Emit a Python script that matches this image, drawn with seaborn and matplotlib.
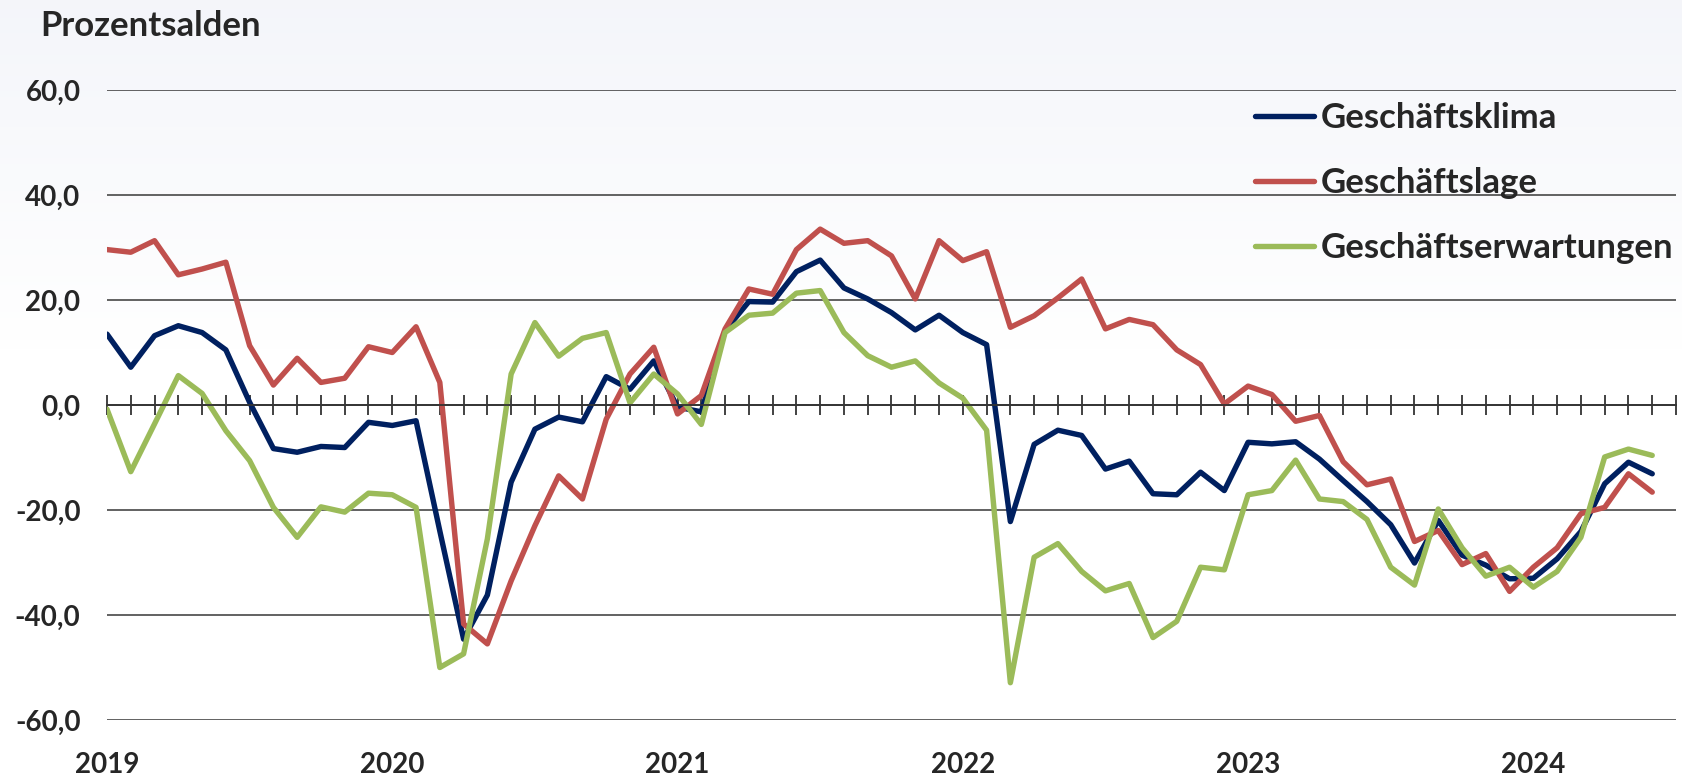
import numpy as np
import pandas as pd
import matplotlib
matplotlib.use("Agg")
import matplotlib.pyplot as plt
from matplotlib.ticker import FixedLocator, FuncFormatter
from matplotlib.font_manager import FontProperties
import seaborn as sns

# ---------------- data (monthly, Jan 2019 - Jun 2024) ----------------
series_names = ["Geschäftsklima", "Geschäftslage", "Geschäftserwartungen"]
year_labels = ["2019", "2020", "2021", "2022", "2023", "2024"]

geschaeftsklima = [
    13.5, 7.2, 13.2, 15.1, 13.8, 10.5, 0.5, -8.3, -9.0, -7.9, -8.1, -3.3,
    -3.9, -3.0, -24.0, -44.6, -36.2, -14.7, -4.6, -2.3, -3.2, 5.4, 3.0, 8.4,
    -0.4, -1.3, 14.2, 19.7, 19.6, 25.4, 27.6, 22.3, 20.2, 17.6, 14.3, 17.1,
    13.8, 11.5, -22.2, -7.5, -4.8, -5.8, -12.2, -10.7, -16.9, -17.1, -12.8, -16.3,
    -7.1, -7.4, -7.0, -10.3, -14.4, -18.4, -22.8, -30.1, -22.0, -28.6, -30.5, -33.1,
    -33.0, -29.3, -24.1, -15.0, -10.9, -13.1,
]
geschaeftslage = [
    29.6, 29.1, 31.3, 24.8, 25.9, 27.2, 11.3, 3.8, 8.9, 4.3, 5.1, 11.1,
    10.0, 14.9, 4.3, -41.7, -45.5, -33.5, -23.0, -13.5, -17.9, -2.7, 5.9, 11.0,
    -1.7, 1.8, 14.5, 22.1, 21.1, 29.6, 33.5, 30.8, 31.3, 28.4, 20.2, 31.3,
    27.5, 29.2, 14.8, 17.0, 20.4, 24.0, 14.5, 16.3, 15.3, 10.5, 7.7, 0.2,
    3.6, 2.0, -3.1, -2.0, -10.8, -15.2, -14.1, -26.0, -23.9, -30.4, -28.3, -35.5,
    -30.9, -27.2, -20.7, -19.5, -13.1, -16.6,
]
geschaeftserwartungen = [
    -0.8, -12.7, -3.6, 5.6, 2.2, -4.9, -10.6, -19.5, -25.2, -19.4, -20.4, -16.8,
    -17.1, -19.5, -50.0, -47.4, -25.5, 5.9, 15.7, 9.3, 12.7, 13.8, 0.4, 5.9,
    2.1, -3.7, 13.8, 17.1, 17.5, 21.3, 21.8, 13.8, 9.4, 7.2, 8.4, 4.2,
    1.3, -4.8, -52.9, -29.0, -26.4, -31.7, -35.4, -34.0, -44.3, -41.2, -30.9, -31.4,
    -17.1, -16.3, -10.5, -17.9, -18.4, -21.8, -30.9, -34.3, -19.8, -27.2, -32.6, -30.9,
    -34.7, -31.7, -25.2, -9.9, -8.4, -9.6,
]

colors = ["#002060", "#c0504d", "#9bbb59"]

month_index = np.arange(len(geschaeftsklima))
df = pd.DataFrame({
    "Monat": month_index,
    series_names[0]: geschaeftsklima,
    series_names[1]: geschaeftslage,
    series_names[2]: geschaeftserwartungen,
}).melt(id_vars="Monat", var_name="Reihe", value_name="Wert")

# ---------------- style ----------------
sns.set_theme(style="white")
plt.rcParams["font.family"] = ["Lato", "DejaVu Sans"]
plt.rcParams["font.weight"] = "bold"

fig = plt.figure(figsize=(16.83, 7.76), dpi=100)
fig.patch.set_facecolor("white")

# subtle background gradient
bg = fig.add_axes([0, 0, 1, 1], zorder=-10)
grad = np.linspace(0, 1, 256).reshape(-1, 1)
top_c = np.array([0.957, 0.963, 0.980])
bot_c = np.array([1.0, 1.0, 1.0])
t = np.clip(grad / 0.45, 0, 1)
img = top_c * (1 - t) + bot_c * t
bg.imshow(img.reshape(256, 1, 3), aspect="auto", extent=[0, 1, 0, 1], origin="upper")
bg.set_axis_off()

ax = fig.add_axes([107 / 1683, 1 - 720 / 776, (1676 - 107) / 1683, 630 / 776])
ax.patch.set_alpha(0)

sns.lineplot(data=df, x="Monat", y="Wert", hue="Reihe", hue_order=series_names,
             palette=colors, linewidth=3.9, ax=ax, legend=True)

ax.set_xlim(0, 66)
ax.set_ylim(-60, 60)
ax.set_xlabel("")
ax.set_ylabel("")

# y axis
ax.set_yticks(np.arange(-60, 61, 20))
ax.yaxis.set_major_formatter(FuncFormatter(lambda v, p: f"{v:.1f}".replace(".", ",")))
ax.tick_params(axis="y", length=0, pad=19, labelsize=20)
for lab in ax.get_yticklabels():
    lab.set_fontweight("bold")
ax.yaxis.grid(True, color="#555555", linewidth=1.3)
ax.xaxis.grid(False)
for s in ["left", "top", "right"]:
    ax.spines[s].set_visible(False)

# x axis at zero with monthly ticks
ax.spines["bottom"].set_position(("data", 0))
ax.spines["bottom"].set_color("#333333")
ax.spines["bottom"].set_linewidth(1.3)
year_pos = [12 * i for i in range(len(year_labels))]
ax.xaxis.set_major_locator(FixedLocator(year_pos))
ax.xaxis.set_minor_locator(FixedLocator([m for m in range(67) if m % 12 != 0]))
ax.tick_params(axis="x", which="both", direction="inout", length=15, width=1.3,
               color="#333333", labelbottom=False, bottom=True)

sec = ax.secondary_xaxis("bottom")
sec.set_xticks(year_pos, labels=year_labels)
sec.tick_params(length=0, pad=23, labelsize=20)
for lab in sec.get_xticklabels():
    lab.set_fontweight("bold")
sec.spines["bottom"].set_visible(False)

# legend
handles, labels = ax.get_legend_handles_labels()
for h in handles:
    h.set_linewidth(3.9)
    h.set_solid_capstyle("round")
leg_font = FontProperties(family=["Lato", "DejaVu Sans"], weight="bold", size=25)
ax.legend(handles, labels, loc="upper left",
          bbox_to_anchor=(1255 / 1683, 1 - 102 / 776), bbox_transform=fig.transFigure,
          frameon=False, prop=leg_font,
          handlelength=1.7, handletextpad=0.2, labelspacing=0.95,
          borderaxespad=0, borderpad=0)

fig.text(40 / 1683, 1 - 26 / 776, "Prozentsalden", fontsize=25, fontweight="bold",
         ha="left", va="center")

fig.savefig("out.png", dpi=100)
